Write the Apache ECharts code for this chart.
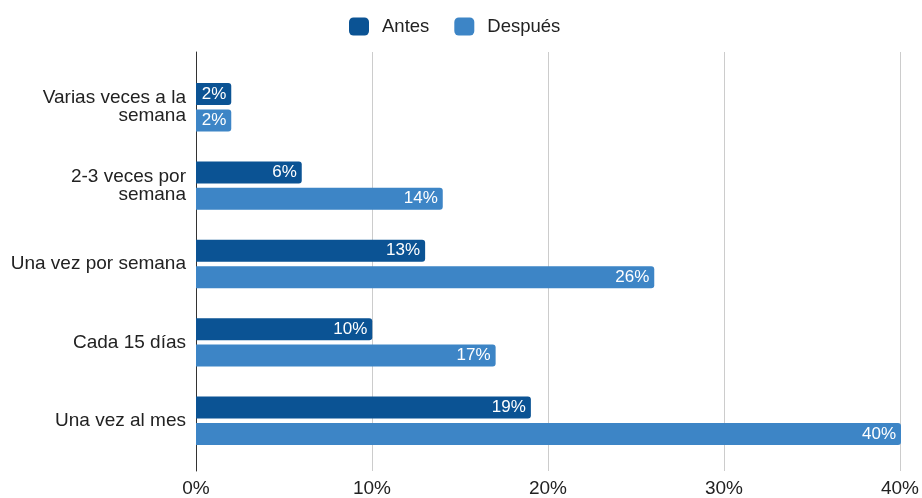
<!DOCTYPE html>
<html>
<head>
<meta charset="utf-8">
<script src="https://cdn.jsdelivr.net/npm/echarts@6/dist/echarts.min.js"></script>
<style>
  html, body { margin: 0; padding: 0; background: #fff; }
  #chart { width: 922px; height: 498px; }
</style>
</head>
<body>
<div id="chart"></div>
<script>
// Frequency categories, listed top to bottom
var categories = [
  'Varias veces a la\nsemana',
  '2-3 veces por\nsemana',
  'Una vez por semana',
  'Cada 15 días',
  'Una vez al mes'
];
var seriesNames = ['Antes', 'Después'];
var antes = [2, 6, 13, 10, 19];
var despues = [2, 14, 26, 17, 40];
var xTicks = [0, 10, 20, 30, 40];

var FONT = '"Liberation Sans", Arial, sans-serif';
var COLORS = ['#0b5394', '#3d85c6'];

function barSeries(name, data, color) {
  return {
    name: name,
    type: 'bar',
    xAxisIndex: 1,
    yAxisIndex: 1,
    data: data,
    barWidth: 22,
    barGap: '20%',
    itemStyle: { color: color, borderRadius: [0, 3, 3, 0] },
    label: {
      show: true,
      position: 'insideRight',
      distance: 5,
      color: '#fff',
      fontFamily: FONT,
      fontSize: 17,
      formatter: function (p) { return p.value + '%'; }
    }
  };
}

var chart = echarts.init(document.getElementById('chart'), null, { renderer: 'canvas' });
chart.setOption({
  animation: false,
  backgroundColor: '#fff',
  legend: {
    data: seriesNames,
    left: 344,
    top: 12,
    itemWidth: 20,
    itemHeight: 18,
    itemGap: 25,
    icon: 'roundRect',
    formatter: function (name) { return '{t|' + name + '}'; },
    textStyle: {
      fontFamily: FONT,
      fontSize: 18.5,
      color: '#222',
      rich: {
        t: { fontFamily: FONT, fontSize: 18.5, color: '#222', padding: [0, 0, 0, 8] }
      }
    }
  },
  grid: [
    // frame: gridlines, axis line and tick labels
    { left: 196, right: 21, top: 52, bottom: 24, containLabel: false },
    // bars
    { left: 196, right: 21, top: 68, bottom: 38, containLabel: false }
  ],
  xAxis: [
    {
      gridIndex: 0,
      type: 'value',
      min: xTicks[0],
      max: xTicks[xTicks.length - 1],
      interval: 10,
      axisLine: { show: false },
      axisTick: { show: false },
      splitLine: { lineStyle: { color: '#cccccc', width: 1 } },
      axisLabel: {
        margin: 8,
        fontFamily: FONT,
        fontSize: 19,
        color: '#222',
        formatter: function (v) { return v + '%'; }
      }
    },
    {
      gridIndex: 1,
      type: 'value',
      min: xTicks[0],
      max: xTicks[xTicks.length - 1],
      show: false
    }
  ],
  yAxis: [
    {
      gridIndex: 0,
      type: 'category',
      data: [''],
      axisLine: { show: true, lineStyle: { color: '#333', width: 1 } },
      axisTick: { show: false },
      axisLabel: { show: false },
      splitLine: { show: false }
    },
    {
      gridIndex: 1,
      type: 'category',
      data: categories,
      inverse: true,
      axisLine: { show: false },
      axisTick: { show: false },
      axisLabel: {
        margin: 10,
        fontFamily: FONT,
        fontSize: 19,
        lineHeight: 18,
        color: '#222',
        align: 'right'
      }
    }
  ],
  series: [
    barSeries(seriesNames[0], antes, COLORS[0]),
    barSeries(seriesNames[1], despues, COLORS[1])
  ]
});
</script>
</body>
</html>
